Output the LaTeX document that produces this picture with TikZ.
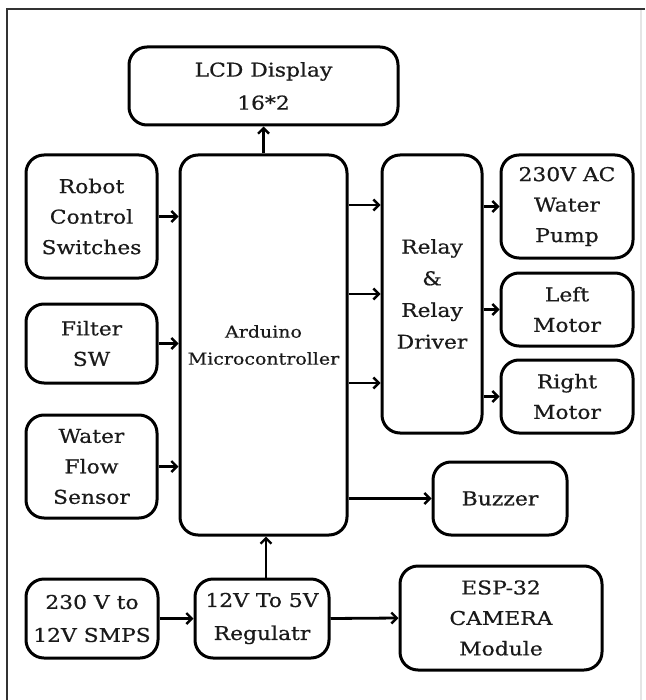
\documentclass[tikz,border=0pt]{standalone}
\usepackage{fontspec}
\setmainfont{DejaVu Serif}[FakeStretch=1.15, FakeBold=0.6]
\usetikzlibrary{arrows.meta}
\definecolor{txt}{HTML}{1A1A1A}
\begin{document}
\begin{tikzpicture}[x=1pt,y=-1pt,
  box/.style={draw, line width=3pt, rounded corners=18pt, align=center,
    text=txt, inner sep=0pt, font=\fontsize{19}{30.5}\selectfont},
  conn/.style={line width=2.8pt, -{Straight Barb[length=5.5pt,width=11pt,line width=2.4pt]}}]
\useasboundingbox (0,0) rectangle (645,700);
% frame
\draw[line width=2pt, black!80] (7,700) -- (7,9) -- (645,9);
\draw[line width=1.5pt, black!10] (641,10) -- (641,700);
% nodes
\node[box, minimum width=269pt, minimum height=78pt, font=\fontsize{19}{33}\selectfont] (lcd) at (263.5,86) {LCD Display\\16*2};
\node[box, minimum width=131pt, minimum height=123pt] (robot) at (91.5,216.5) {Robot\\Control\\Switches};
\node[box, minimum width=131pt, minimum height=79pt] (filter) at (91.5,343.5) {Filter\\SW};
\node[box, minimum width=131pt, minimum height=103pt] (water) at (91.5,466.5) {Water\\Flow\\Sensor};
\node[box, minimum width=167pt, minimum height=380pt, font=\fontsize{16.5}{27}\selectfont] (ard) at (263.5,345) {Arduino\\Microcontroller};
\node[box, minimum width=100pt, minimum height=278pt, font=\fontsize{19}{31.7}\selectfont] (relay) at (432,294) {Relay\\\&\\Relay\\Driver};
\node[box, minimum width=132pt, minimum height=103pt] (pump) at (567,206.5) {230V AC\\Water\\Pump};
\node[box, minimum width=132pt, minimum height=73pt] (left) at (567,309.5) {Left\\Motor};
\node[box, minimum width=132pt, minimum height=73pt] (right) at (567,396.5) {Right\\Motor};
\node[box, minimum width=134pt, minimum height=73pt] (buzz) at (500,498.5) {Buzzer};
\node[box, minimum width=132pt, minimum height=79pt, font=\fontsize{19}{33}\selectfont] (smps) at (92,618.5) {230 V to\\12V SMPS};
\node[box, minimum width=134pt, minimum height=79pt, font=\fontsize{19}{33}\selectfont] (reg) at (262,618.5) {12V To 5V\\Regulatr};
\node[box, minimum width=202pt, minimum height=104pt] (esp) at (501,618) {ESP-32\\CAMERA\\Module};
% connectors
\draw[conn] (ard.north) -- (lcd.south);
\draw[conn] (robot.east) -- (robot.east -| ard.west);
\draw[conn] (filter.east) -- (filter.east -| ard.west);
\draw[conn] (water.east) -- (water.east -| ard.west);
\draw[conn] ([yshift=89pt]ard.east |- relay.west) -- ([yshift=89pt]relay.west);
\draw[conn] (ard.east |- relay.west) -- (relay.west);
\draw[conn] ([yshift=-89pt]ard.east |- relay.west) -- ([yshift=-89pt]relay.west);
\draw[conn] (relay.east |- pump.west) -- (pump.west);
\draw[conn] (relay.east |- left.west) -- (left.west);
\draw[conn] (relay.east |- right.west) -- (right.west);
\draw[conn] (ard.east |- buzz.west) -- (buzz.west);
\draw[conn] (smps.east) -- (reg.west);
\draw[conn] (reg.east) -- (esp.west);
\draw[conn] ([xshift=4pt]reg.north) -- ([xshift=4pt]reg.north |- ard.south);
\end{tikzpicture}
\end{document}
